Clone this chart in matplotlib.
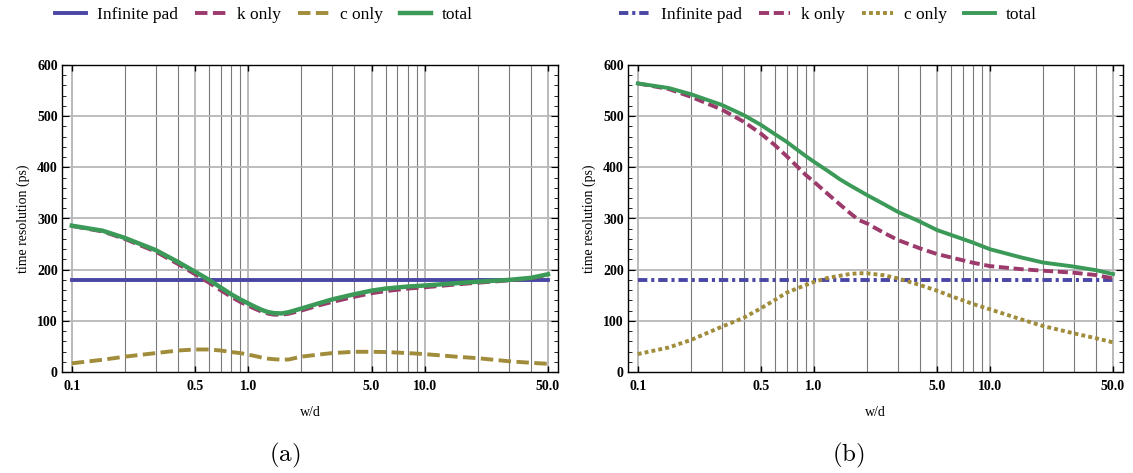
import numpy as np
import matplotlib
matplotlib.use("Agg")
import matplotlib.pyplot as plt
from matplotlib.ticker import FixedLocator, NullFormatter, FixedFormatter

plt.rcParams['font.family'] = ['Liberation Serif', 'DejaVu Serif']
plt.rcParams['mathtext.fontset'] = 'cm'

# ---------------- data ----------------
x_a = [0.1, 0.15, 0.2, 0.3, 0.4, 0.5, 0.6, 0.7, 0.8, 0.9, 1.0, 1.1, 1.2, 1.3, 1.4, 1.55, 1.7, 2, 2.5, 3, 4, 5, 6, 8, 10, 15, 20, 30, 40, 50]
total_a = [286, 276, 262, 238, 215, 196, 180, 165, 152, 142, 134, 127, 121, 117, 115, 114.5, 117, 124, 134, 142, 152, 159, 163, 167, 169, 173.5, 176.5, 180, 184, 191]
k_a = [285.5, 274.5, 260, 235, 211, 191, 174.5, 159.5, 147, 137, 129.5, 123, 117.5, 114, 112, 112, 114, 120, 130, 137, 147, 154, 158, 163, 165.5, 171, 174.5, 179, 183, 190]
c_a = [17, 24, 30, 37, 42, 44, 44, 42, 39, 37, 34, 31, 28, 26, 25, 24, 24.5, 30, 34, 37, 39.5, 39.5, 39, 37, 35, 30, 27, 21, 18, 16]
inf_a = [180] * len(x_a)

x_b = [0.1, 0.15, 0.2, 0.3, 0.4, 0.5, 0.6, 0.7, 0.8, 0.9, 1.0, 1.2, 1.4, 1.6, 1.8, 2, 2.5, 3, 4, 5, 6, 8, 10, 15, 20, 30, 40, 50]
total_b = [564, 555, 543, 522, 502, 483, 465, 450, 435, 422, 411, 393, 377, 365, 355, 346, 328, 313, 294, 277.5, 268, 253, 240, 224, 214, 206, 199, 191.5]
k_b = [564, 553, 538, 513, 489, 466, 443.5, 422, 402.5, 385, 372, 348, 328, 311, 297, 290.5, 272, 258, 241.7, 230.6, 224, 213.6, 207, 201, 198, 194, 189.5, 183]
c_b = [35, 48, 62.5, 88.5, 106, 124.5, 140.7, 155, 163, 170, 176, 184, 188, 191.5, 193, 193, 189, 183, 170, 159, 148.5, 133, 122.5, 103, 90, 75.5, 66, 58]
inf_b = [180] * len(x_b)

labels = ["Infinite pad", "k only", "c only", "total"]
xtick_vals = [0.1, 0.5, 1.0, 5.0, 10.0, 50.0]
xtick_labels = ["0.1", "0.5", "1.0", "5.0", "10.0", "50.0"]
minor_grid = [0.2, 0.3, 0.4, 0.6, 0.7, 0.8, 0.9, 2, 3, 4, 6, 7, 8, 9, 20, 30, 40]

c_blue = '#4a46a6'
c_mag = '#9c3a6c'
c_olive = '#a08c3a'
c_green = '#3c9a58'

W, H = 1133, 473
fig = plt.figure(figsize=(W / 100, H / 100), dpi=100)


def make_axes(x0px, x1px):
    ax = fig.add_axes([x0px / W, 1 - 372 / H, (x1px - x0px) / W, 307 / H])
    ax.set_xscale('log')
    ax.set_xlim(0.088, 57)
    ax.set_ylim(0, 600)
    for v in minor_grid:
        ax.axvline(v, color='#7a7a7a', lw=0.8, zorder=0)
    for v in xtick_vals:
        ax.axvline(v, color='#b4b4b4', lw=1.3, zorder=0)
    for v in range(100, 601, 100):
        ax.axhline(v, color='#b8b8b8', lw=1.3, zorder=0)
    ax.xaxis.set_major_locator(FixedLocator(xtick_vals))
    ax.xaxis.set_major_formatter(FixedFormatter(xtick_labels))
    ax.xaxis.set_minor_locator(FixedLocator([]))
    ax.xaxis.set_minor_formatter(NullFormatter())
    ax.yaxis.set_major_locator(FixedLocator(list(range(0, 601, 100))))
    ax.yaxis.set_minor_locator(FixedLocator([v for v in range(0, 601, 20) if v % 100]))
    ax.tick_params(axis='x', which='major', direction='in', length=4, width=1.0,
                   top=True, bottom=True, pad=6, labelsize=10)
    ax.tick_params(axis='y', which='major', direction='in', length=5, width=0.8,
                   left=True, right=True, labelsize=10, pad=3)
    ax.tick_params(axis='y', which='minor', direction='in', length=3, width=0.6,
                   left=True, right=True)
    for lab in ax.get_xticklabels() + ax.get_yticklabels():
        lab.set_fontweight('bold')
    for s in ax.spines.values():
        s.set_linewidth(1.0)
        s.set_color('black')
    ax.set_ylabel('time resolution (ps)', fontsize=10, labelpad=5)
    ax.set_xlabel('w/d', fontsize=10, labelpad=9)
    return ax


lw = 2.8
# ---- panel (a)
axa = make_axes(62, 558)
h1, = axa.plot(x_a, inf_a, color=c_blue, lw=lw, zorder=3)
h2, = axa.plot(x_a, k_a, color=c_mag, lw=lw, dashes=(3.2, 1.4), zorder=3)
h3, = axa.plot(x_a, c_a, color=c_olive, lw=lw, dashes=(3.2, 1.4), zorder=3)
h4, = axa.plot(x_a, total_a, color=c_green, lw=lw + 0.4, zorder=4)
fig.legend([h1, h2, h3, h4], labels, loc='center', bbox_to_anchor=(264 / W, 1 - 15 / H),
           ncol=4, frameon=False, fontsize=12.5, handlelength=1.8, handletextpad=0.6,
           columnspacing=1.0)
fig.text(285 / W, 1 - 455 / H, r'$\mathrm{(a)}$', fontsize=18, ha='center', va='center')

# ---- panel (b)
axb = make_axes(628, 1123)
g1, = axb.plot(x_b, inf_b, color=c_blue, lw=lw, dashes=(2.4, 1.0, 0.8, 1.0), zorder=3)
g2, = axb.plot(x_b, k_b, color=c_mag, lw=lw, dashes=(2.6, 1.2), zorder=3)
g3, = axb.plot(x_b, c_b, color=c_olive, lw=lw, dashes=(1.0, 0.8), zorder=3)
g4, = axb.plot(x_b, total_b, color=c_green, lw=lw, zorder=4)
fig.legend([g1, g2, g3, g4], labels, loc='center', bbox_to_anchor=(828 / W, 1 - 15 / H),
           ncol=4, frameon=False, fontsize=12.5, handlelength=1.8, handletextpad=0.6,
           columnspacing=1.0)
fig.text(848 / W, 1 - 455 / H, r'$\mathrm{(b)}$', fontsize=18, ha='center', va='center')

fig.savefig('out.png', dpi=100)
